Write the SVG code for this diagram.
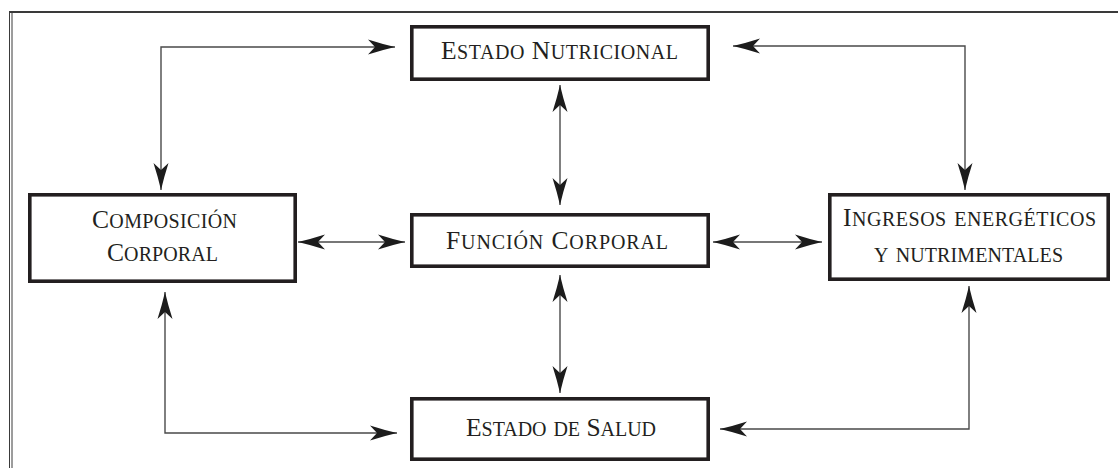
<svg xmlns="http://www.w3.org/2000/svg" width="1118" height="468" viewBox="0 0 1118 468">
<style>
.box{fill:#fff;stroke:#231f20;stroke-width:3.6}
.lbl{font-family:"Liberation Serif","Times New Roman",serif;font-size:25.5px;font-variant:small-caps;fill:#231f20}
.s{font-size:28px}
.con{fill:none;stroke:#4a4a4a;stroke-width:1.4;marker-start:url(#ah);marker-end:url(#ah)}
.frame{stroke:#3a3a3a;fill:none}
</style>
<defs>
<marker id="ah" viewBox="-28 -9 30 18" refX="0" refY="0" markerWidth="30" markerHeight="18" markerUnits="userSpaceOnUse" orient="auto-start-reverse">
<path d="M0,0 Q-13,-3 -27,-7.5 L-20,0 L-27,7.5 Q-13,3 0,0 Z" fill="#1c1c1c"/>
</marker>
</defs>
<rect width="1118" height="468" fill="#fff"/>
<g id="frame">
<line class="frame" x1="9" y1="12" x2="1118" y2="12" stroke-width="2"/>
<line class="frame" x1="9.5" y1="11" x2="9.5" y2="468" stroke-width="1"/>
<line class="frame" x1="12" y1="13" x2="12" y2="468" stroke-width="1"/>
</g>
<g id="connectors">
<path class="con" d="M161,190 L161,47 L395,47"/>
<path class="con" d="M733,46 L965,46 L965,190"/>
<path class="con" d="M298,242 L405,242"/>
<path class="con" d="M713,242 L822,242"/>
<path class="con" d="M560,85 L560,205"/>
<path class="con" d="M560,275 L560,393"/>
<path class="con" d="M165,292 L165,433 L397,433"/>
<path class="con" d="M969,286 L969,429 L720,429"/>
</g>
<g id="estado-nutricional">
<rect class="box" x="411.8" y="26.8" width="296.4" height="52.4"/>
<text class="lbl" x="441" y="59" textLength="237" lengthAdjust="spacing">E<tspan class="s">stado</tspan> N<tspan class="s">utricional</tspan></text>
</g>
<g id="composicion-corporal">
<rect class="box" x="29.8" y="194.8" width="265.4" height="86.4"/>
<text class="lbl" x="92" y="228" textLength="145" lengthAdjust="spacing">C<tspan class="s">omposición</tspan></text>
<text class="lbl" x="107" y="261" textLength="111" lengthAdjust="spacing">C<tspan class="s">orporal</tspan></text>
</g>
<g id="funcion-corporal">
<rect class="box" x="411.8" y="214.8" width="296.4" height="51.4"/>
<text class="lbl" x="446" y="249" textLength="222" lengthAdjust="spacing">F<tspan class="s">unción</tspan> C<tspan class="s">orporal</tspan></text>
</g>
<g id="ingresos">
<rect class="box" x="829.8" y="194.8" width="278.4" height="84.4"/>
<text class="lbl" x="843" y="226" textLength="253" lengthAdjust="spacing">I<tspan class="s">ngresos energéticos</tspan></text>
<text class="lbl" x="874" y="262" textLength="189" lengthAdjust="spacing"><tspan class="s">y nutrimentales</tspan></text>
</g>
<g id="estado-salud">
<rect class="box" x="411.8" y="398.8" width="296.4" height="60.4"/>
<text class="lbl" x="466" y="436" textLength="190" lengthAdjust="spacing">E<tspan class="s">stado de</tspan> S<tspan class="s">alud</tspan></text>
</g>
</svg>
